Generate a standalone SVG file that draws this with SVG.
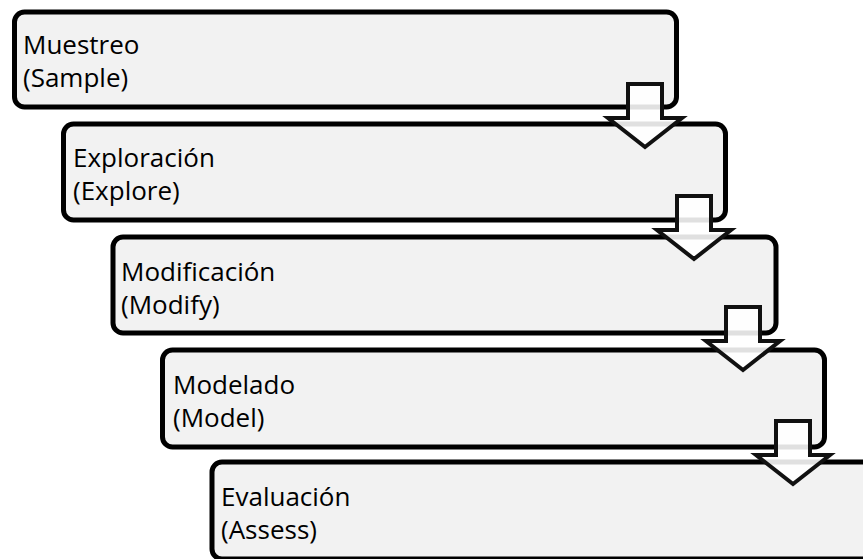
<svg xmlns="http://www.w3.org/2000/svg" width="863" height="559" viewBox="0 0 863 559">
  <style>
    .box { fill: #f2f2f2; stroke: #000; stroke-width: 5; }
    .lbl { font-family: "Open Sans", "Noto Sans", sans-serif; font-size: 26px; fill: #000; }
    .arrow { fill: #fff; fill-opacity: 0.88; stroke: #111; stroke-width: 4; stroke-linejoin: miter; }
  </style>
  <defs>
    <!-- down arrow shape, origin at top centre of the shaft -->
    <path id="down" d="M -17 0 H 17 V 34 H 37 L 0 63 L -37 34 H -17 Z"/>
  </defs>

  <g id="step-sample">
    <rect class="box" x="14.5" y="12" width="662" height="95" rx="10"/>
    <text class="lbl" x="23" y="54">Muestreo<tspan x="23" dy="33">(Sample)</tspan></text>
  </g>
  <g id="step-explore">
    <rect class="box" x="63.5" y="124" width="662" height="96" rx="10"/>
    <text class="lbl" x="73" y="167">Exploración<tspan x="73" dy="33">(Explore)</tspan></text>
  </g>
  <g id="step-modify">
    <rect class="box" x="113" y="237" width="663" height="96" rx="10"/>
    <text class="lbl" x="121" y="280.5">Modificación<tspan x="121" dy="33">(Modify)</tspan></text>
  </g>
  <g id="step-model">
    <rect class="box" x="162.5" y="350" width="662" height="97" rx="10"/>
    <text class="lbl" x="173" y="393.5">Modelado<tspan x="173" dy="33">(Model)</tspan></text>
  </g>
  <g id="step-assess">
    <rect class="box" x="212" y="462" width="663" height="97" rx="10"/>
    <text class="lbl" x="221" y="505.5">Evaluación<tspan x="221" dy="33">(Assess)</tspan></text>
  </g>

  <g id="connectors">
    <use href="#down" class="arrow" x="645" y="84"/>
    <use href="#down" class="arrow" x="694" y="196"/>
    <use href="#down" class="arrow" x="743" y="307"/>
    <use href="#down" class="arrow" x="793" y="421"/>
  </g>
</svg>
